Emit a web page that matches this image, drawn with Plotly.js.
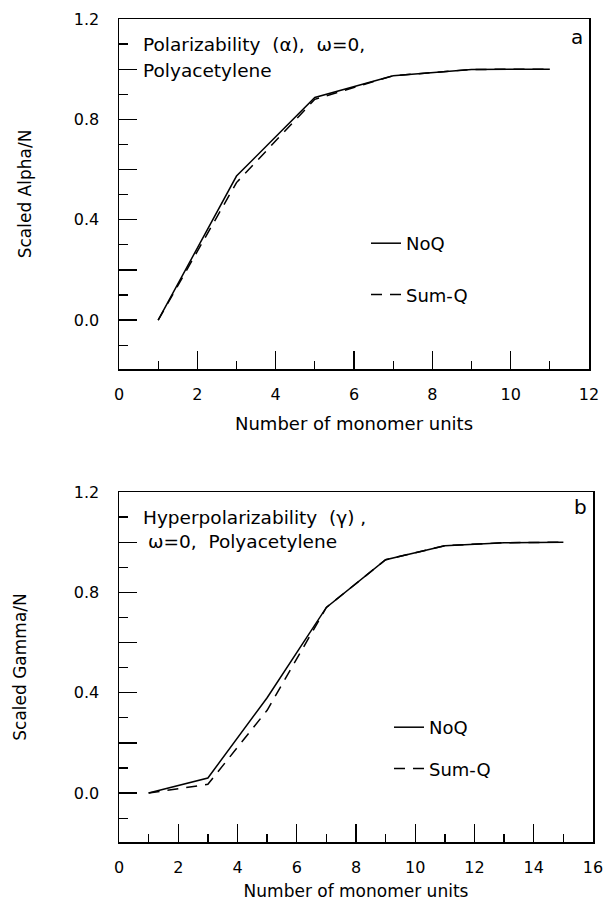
<!DOCTYPE html>
<html>
<head>
<meta charset="utf-8">
<script src="https://cdn.plot.ly/plotly-3.0.1.min.js"></script>
<style>html,body{margin:0;padding:0;background:#fff;}#chart{width:612px;height:901px;}</style>
</head>
<body>
<div id="chart"></div>
<script>
// Panel a: polarizability
const monomersA = [1, 3, 5, 7, 9, 11];
const noqAlpha  = [0.0, 0.574, 0.887, 0.974, 0.999, 1.0];
const sumqAlpha = [0.0, 0.548, 0.880, 0.974, 0.999, 1.0];
// Panel b: hyperpolarizability
const monomersG = [1, 3, 5, 7, 9, 11, 13, 15];
const noqGamma  = [0.0, 0.060, 0.380, 0.740, 0.930, 0.986, 0.998, 1.0];
const sumqGamma = [0.0, 0.035, 0.330, 0.740, 0.930, 0.986, 0.998, 1.0];

const yTickVals = [0.0, 0.2, 0.4, 0.6, 0.8, 1.0, 1.2];
const yTickText = ['0.0', '', '0.4', '', '0.8', '', '1.2'];

const FONT = 'DejaVu Sans, Verdana, sans-serif';
const W = 612, H = 901;
const px = v => v / W;
const py = v => 1 - v / H;

const traces = [
  {x: monomersA, y: noqAlpha, name: 'NoQ', type: 'scatter', mode: 'lines',
   line: {color: '#000', width: 1.5}, xaxis: 'x', yaxis: 'y', legend: 'legend', legendgroup: 'a1'},
  {x: monomersA, y: sumqAlpha, name: 'Sum-Q', type: 'scatter', mode: 'lines',
   line: {color: '#000', width: 1.5, dash: '11px,8px'}, xaxis: 'x', yaxis: 'y', legend: 'legend', legendgroup: 'a2'},
  {x: monomersG, y: noqGamma, name: 'NoQ', type: 'scatter', mode: 'lines',
   line: {color: '#000', width: 1.5}, xaxis: 'x2', yaxis: 'y2', legend: 'legend2', legendgroup: 'b1'},
  {x: monomersG, y: sumqGamma, name: 'Sum-Q', type: 'scatter', mode: 'lines',
   line: {color: '#000', width: 1.5, dash: '11px,8px'}, xaxis: 'x2', yaxis: 'y2', legend: 'legend2', legendgroup: 'b2'}
];

function xAxis(range, domain, anchor, titleSize, standoff) {
  return {
    range: range, domain: domain, anchor: anchor,
    showline: true, linecolor: '#000', linewidth: 1.5, mirror: true,
    showgrid: false, zeroline: false,
    tickmode: 'linear', tick0: 0, dtick: 2,
    ticks: 'inside', ticklen: 18, tickwidth: 1.3, tickcolor: '#000',
    minor: {dtick: 1, tick0: 0, ticks: 'inside', ticklen: 8, tickwidth: 1.3, tickcolor: '#000', showgrid: false},
    ticklabelstandoff: 10,
    tickfont: {family: FONT, size: 16, color: '#000'},
    title: {text: 'Number of monomer units', font: {family: FONT, size: titleSize, color: '#000'}, standoff: standoff},
    fixedrange: true
  };
}
function yAxis(domain, anchor, title, standoff) {
  return {
    range: [-0.195, 1.2], domain: domain, anchor: anchor,
    showline: true, linecolor: '#000', linewidth: 1.5, mirror: true,
    showgrid: false, zeroline: false,
    tickmode: 'array', tickvals: yTickVals, ticktext: yTickText,
    ticks: 'inside', ticklen: 18, tickwidth: 1.3, tickcolor: '#000',
    minor: {dtick: 0.1, tick0: 0, ticks: 'inside', ticklen: 9, tickwidth: 1.3, tickcolor: '#000', showgrid: false},
    ticklabelstandoff: 15,
    tickfont: {family: FONT, size: 16, color: '#000'},
    title: {text: title, font: {family: FONT, size: 17, color: '#000'}, standoff: standoff},
    fixedrange: true
  };
}

const annFont = {family: FONT, size: 18.5, color: '#000'};
const legFont = {family: FONT, size: 18, color: '#000'};
const layout = {
  width: W, height: H,
  margin: {l: 0, r: 0, t: 0, b: 0},
  paper_bgcolor: '#fff', plot_bgcolor: '#fff',
  showlegend: true,
  xaxis: xAxis([0, 12], [px(119), px(589)], 'y', 18, 14),
  yaxis: yAxis([py(369), py(19)], 'x', 'Scaled Alpha/N', 38),
  xaxis2: xAxis([0, 16], [px(119), px(593)], 'y2', 17, 11),
  yaxis2: yAxis([py(842), py(492)], 'x2', 'Scaled Gamma/N', 43),
  legend: {x: px(366), y: py(225), xanchor: 'left', yanchor: 'top', bgcolor: 'rgba(0,0,0,0)',
           font: legFont, tracegroupgap: 25, traceorder: 'grouped'},
  legend2: {x: px(389), y: py(709), xanchor: 'left', yanchor: 'top', bgcolor: 'rgba(0,0,0,0)',
           font: legFont, tracegroupgap: 15, traceorder: 'grouped'},
  annotations: [
    {text: 'Polarizability  (\u03b1),  \u03c9=0,', x: px(141), y: py(44), xref: 'paper', yref: 'paper', xanchor: 'left', yanchor: 'middle', showarrow: false, font: annFont},
    {text: 'Polyacetylene', x: px(141), y: py(70), xref: 'paper', yref: 'paper', xanchor: 'left', yanchor: 'middle', showarrow: false, font: annFont},
    {text: 'a', x: px(577), y: py(37), xref: 'paper', yref: 'paper', xanchor: 'center', yanchor: 'middle', showarrow: false, font: {family: FONT, size: 20, color: '#000'}},
    {text: 'Hyperpolarizability  (\u03b3) ,', x: px(141), y: py(517), xref: 'paper', yref: 'paper', xanchor: 'left', yanchor: 'middle', showarrow: false, font: annFont},
    {text: '\u03c9=0,  Polyacetylene', x: px(146), y: py(541), xref: 'paper', yref: 'paper', xanchor: 'left', yanchor: 'middle', showarrow: false, font: annFont},
    {text: 'b', x: px(580), y: py(507), xref: 'paper', yref: 'paper', xanchor: 'center', yanchor: 'middle', showarrow: false, font: {family: FONT, size: 20, color: '#000'}}
  ]
};

Plotly.newPlot('chart', traces, layout, {staticPlot: true, displayModeBar: false});
</script>
</body>
</html>
